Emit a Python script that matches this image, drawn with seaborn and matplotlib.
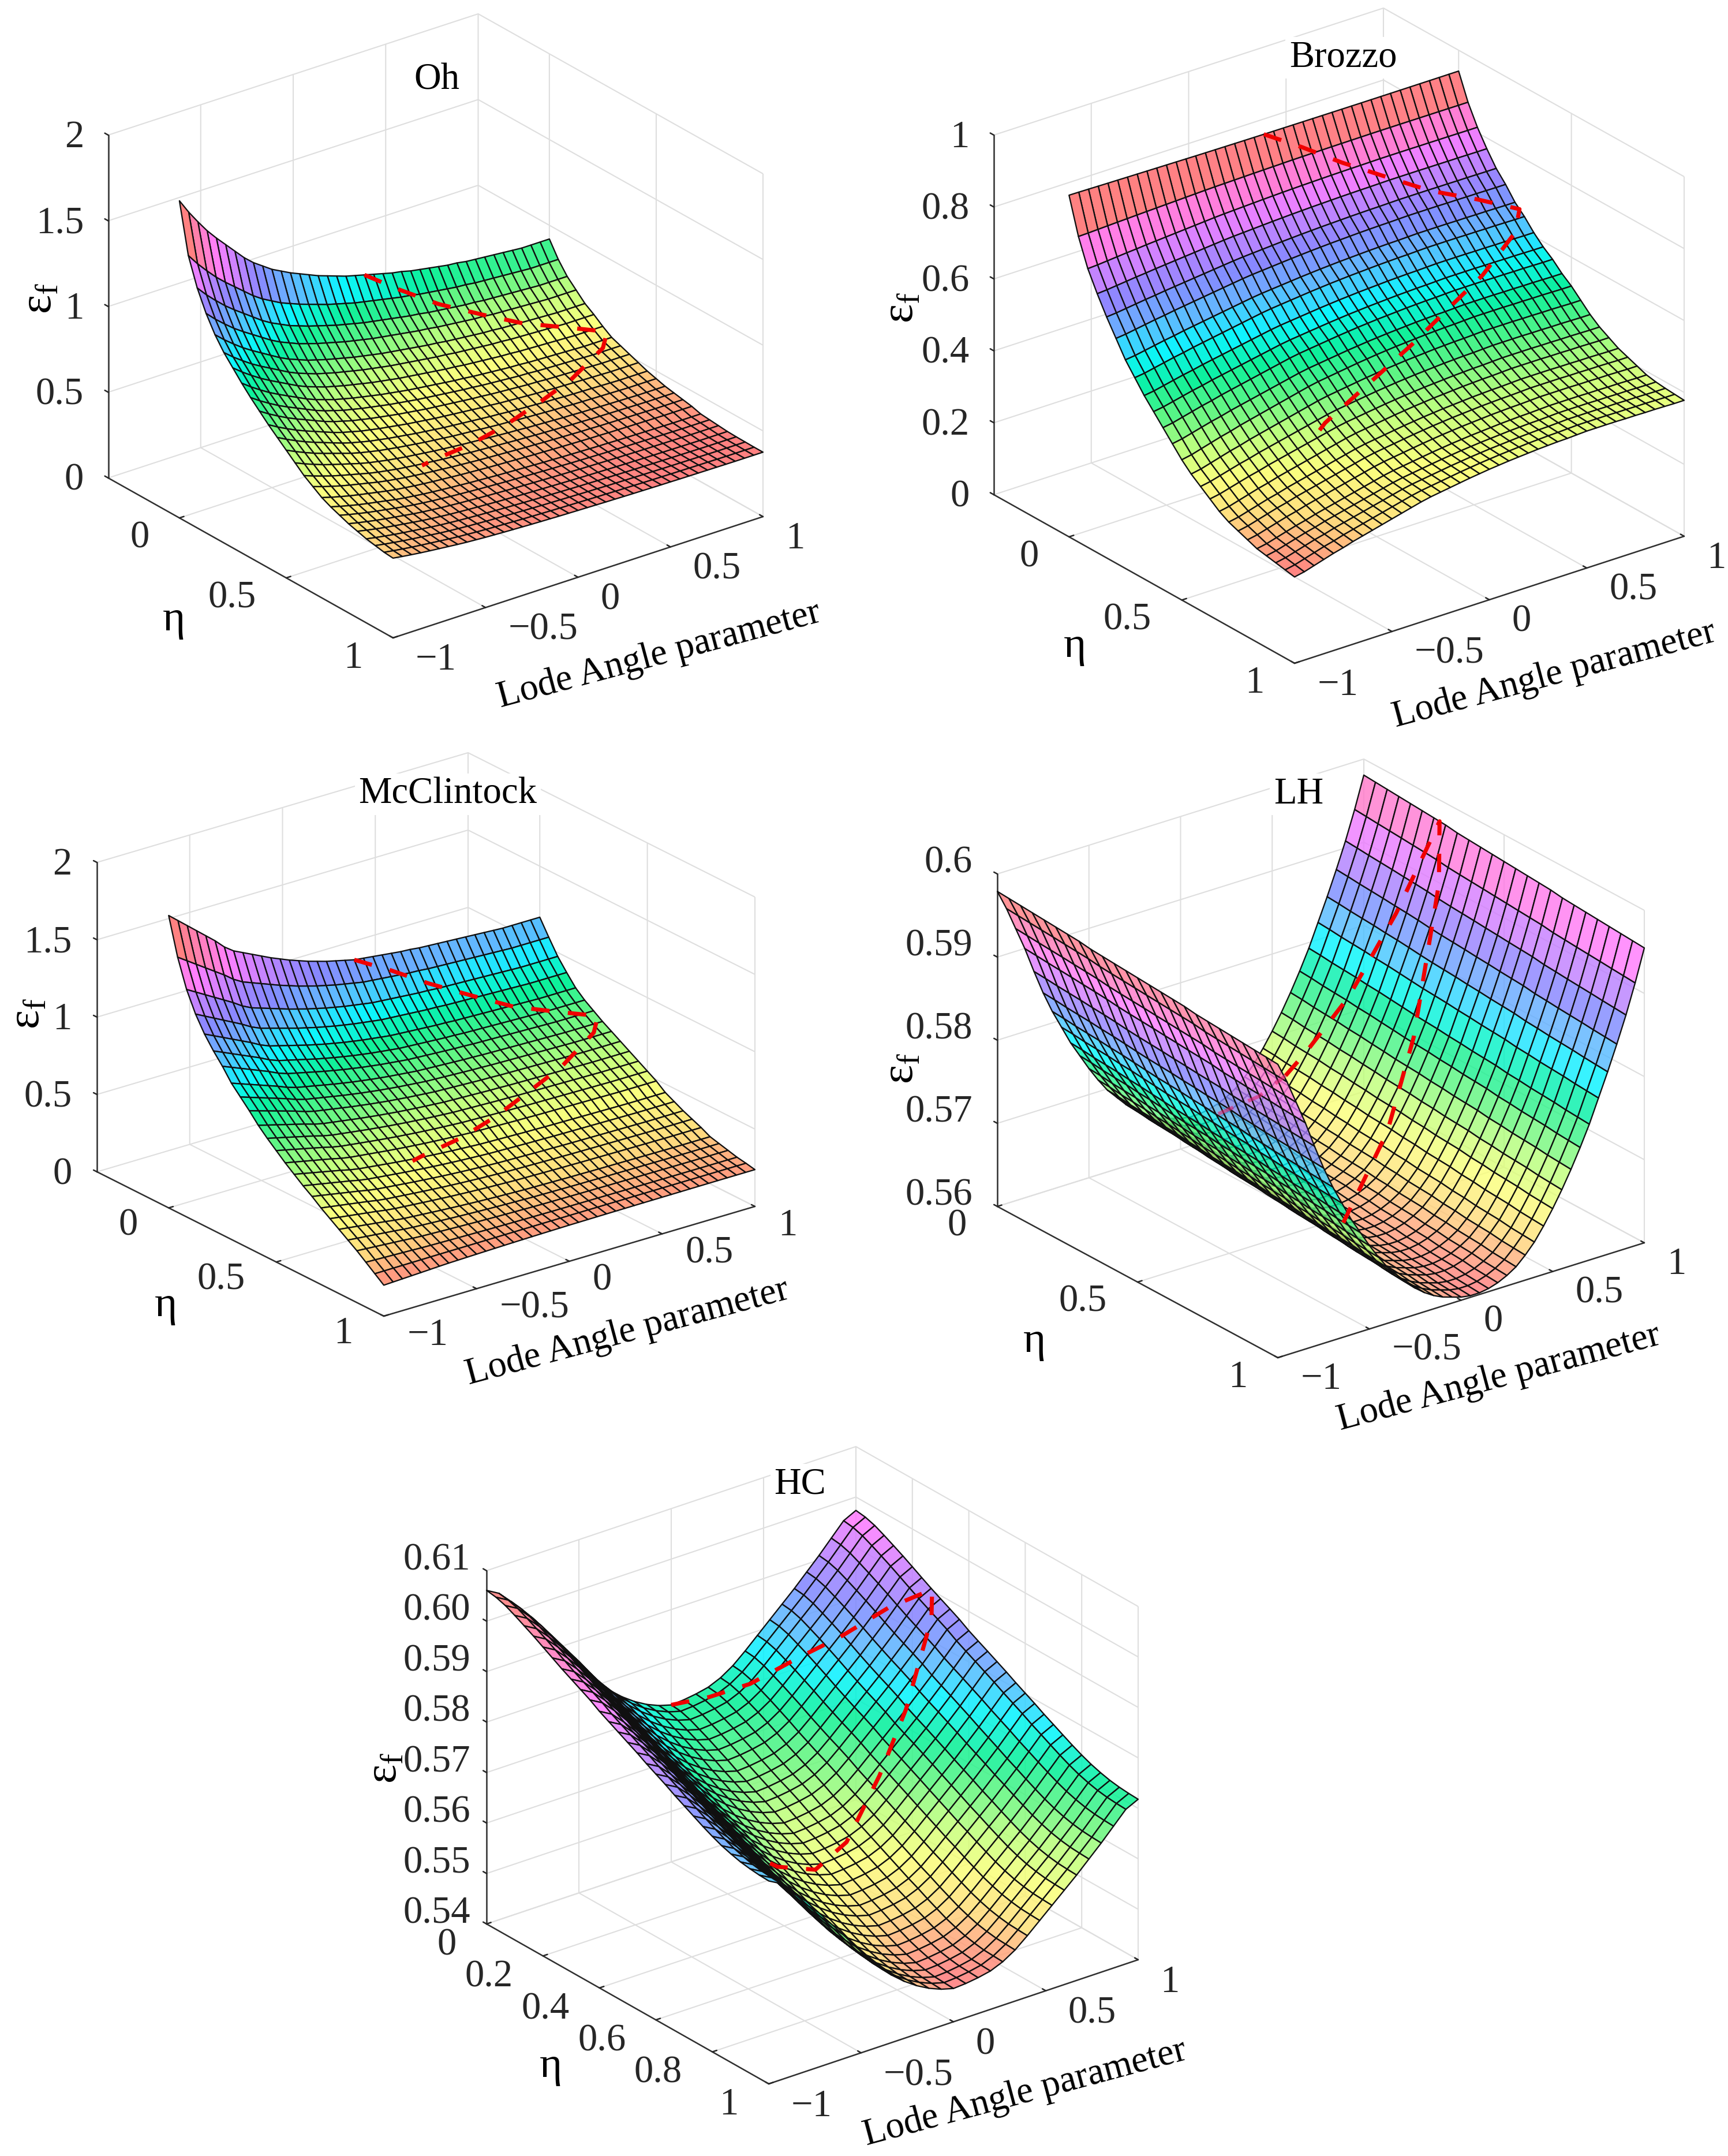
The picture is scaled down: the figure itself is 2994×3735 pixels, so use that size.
import numpy as np
import matplotlib
matplotlib.use("Agg")
import matplotlib.pyplot as plt
import seaborn as sns
from mpl_toolkits.mplot3d import proj3d

# Each table below: the surface height along two rim
# profiles over eta, and how far each Lode station sits from the first profile
# towards the second one. The plotted table is built from those readings.
OH_A = [1.85,1.56,1.40,1.28,1.185,1.11,1.05,.99,.935,.885,.835,.79,.745,.70,.655,.62,.585,.56,.54,.52,.505,.49,.48,.47,.465]
OH_B = [.92,.83,.76,.71,.66,.625,.585,.55,.53,.51,.49,.47,.455,.44,.43,.42,.41,.395,.39,.385,.38,.378,.377,.376,.376]
OH_W = [0,.09,.17,.245,.31,.37,.43,.49,.54,.58,.62,.65,.68,.705,.73,.755,.775,.795,.815,.83,.845,.86,.875,.89,.90,.915,.925,.935,.945,.955,.96,.97,.975,.98,.985,.99,.995,1,1,1,1]

BR_A = [.95,.85,.775,.72,.67,.625,.58,.545,.51,.48,.45,.42,.39,.365,.345,.325,.305,.29,.28,.27,.26,.255,.25,.245,.24]
BR_B = [.942,.87,.815,.77,.73,.70,.665,.64,.61,.585,.565,.54,.52,.495,.47,.45,.435,.42,.41,.40,.39,.385,.382,.38,.378]
BR_W = [0,.04,.10,.16,.22,.27,.33,.38,.43,.48,.53,.58,.63,.68,.72,.75,.78,.81,.84,.865,.89,.91,.93,.945,.96,.975,.985,.995,1.0,1.01,1.02,1.02,1.02,1.02,1.015,1.015,1.01,1.01,1.005,1.0,1.0]

MC_A = [1.89,1.65,1.47,1.34,1.24,1.16,1.09,1.01,.95,.89,.825,.77,.72,.67,.625,.58,.54,.495,.455,.415,.375,.335,.29,.245,.20]
MC_B = [1.17,1.07,.975,.90,.83,.78,.74,.70,.665,.63,.595,.56,.525,.49,.445,.415,.385,.36,.335,.305,.29,.275,.26,.25,.238]
MC_W = [0,.07,.14,.21,.28,.35,.43,.49,.53,.57,.61,.65,.685,.72,.75,.78,.805,.83,.85,.87,.89,.90,.91,.92,.93,.94,.945,.955,.96,.965,.97,.975,.98,.985,.99,.995,1,1,1,1,1]

LH_A = [.5979,.5978,.5977,.5976,.5975,.5974,.5973,.5972,.5970,.5969,.5968,.5967,.5966,.5965,.5964,.5963,.5962,.5960,.5959,.5958,.5957,.5956,.5955,.5954,.5953]
LH_B = [.5635,.5634,.5632,.5631,.5630,.5628,.5627,.5625,.5624,.5622,.5621,.5620,.5618,.5617,.5615,.5614,.5613,.5611,.5610,.5608,.5607,.5606,.5604,.5603,.5602]
LH_W = [0,.07,.15,.23,.32,.405,.48,.545,.61,.665,.72,.77,.815,.85,.885,.915,.94,.96,.975,.985,.995,1,1,.995,.985,.97,.95,.92,.885,.84,.79,.735,.675,.61,.54,.46,.38,.295,.205,.105,-.005]

HC_A = [.6061,.6058,.6052,.6043,.6033,.6023,.6012,.6001,.599,.598,.597,.596,.5948,.5938,.5928,.5918,.5908,.5897,.5887,.5877,.5866,.5856,.5846,.5836,.5827,.5819,.5813,.5808,.5805,.5803,.5802]
HC_B = [.5711,.5709,.5703,.5694,.5685,.5675,.5665,.5654,.5644,.5634,.5625,.5615,.5604,.5594,.5585,.5575,.5565,.5555,.5545,.5535,.5525,.5516,.5506,.5497,.5488,.5481,.5475,.5471,.5468,.5467,.5466]
HC_W = [0,.04,.11,.19,.28,.37,.46,.555,.645,.725,.80,.86,.91,.95,.98,1,.995,.985,.97,.94,.895,.835,.77,.705,.64,.575,.505,.435,.36,.285,.25]

# red dashed path on each surface: Lode parameter and eta of its nodes
PATH_LODE = [0,.16,.32,.5,.66,.84,1,.92,.66,.44,.17,-.06,-.31,-.37]
PATH_ETA = [0,.03,.07,.12,.17,.22,.27,.32,.40,.45,.51,.55,.58,.59]
BR_PATH_LODE = [0,.16,.32,.5,.66,.84,1,.92,.66,.44,.17,-.06,-.38,-.42]
BR_PATH_ETA = [0,.03,.07,.12,.17,.22,.27,.32,.40,.45,.51,.55,.60,.61]
LH_PATH_LODE = [.42,.5,.66,.84,1,.92,.66,.44,.17,0]
LH_PATH_ETA = [.10,.12,.17,.22,.27,.32,.40,.45,.51,.58]
LH_HIDDEN_LODE = [.16,.32,.42]
LH_HIDDEN_ETA = [.03,.07,.10]

LODE_TICKS = [-1,-.5,0,.5,1]
LODE_LABELS = ['\u22121','\u22120.5','0','0.5','1']
ETA_TICKS_A = [0,.5,1]
ETA_LABELS_A = ['0','0.5','1']
ETA_TICKS_B = [0,.2,.4,.6,.8,1]
ETA_LABELS_B = ['0','0.2','0.4','0.6','0.8','1']
Z2_TICKS = [0,.5,1,1.5,2]
Z2_LABELS = ['0','0.5','1','1.5','2']
Z1_TICKS = [0,.2,.4,.6,.8,1]
Z1_LABELS = ['0','0.2','0.4','0.6','0.8','1']
LH_TICKS = [.56,.57,.58,.59,.60]
LH_LABELS = ['0.56','0.57','0.58','0.59','0.6']
HC_TICKS = [.54,.55,.56,.57,.58,.59,.60,.61]
HC_LABELS = ['0.54','0.55','0.56','0.57','0.58','0.59','0.60','0.61']

W, H = 2995, 3735
sns.set_theme(style='white')
plt.rcParams['font.family'] = ['Liberation Serif', 'DejaVu Serif']
plt.rcParams['mathtext.fontset'] = 'custom'
plt.rcParams['mathtext.rm'] = 'Liberation Serif'
plt.rcParams['axes.unicode_minus'] = True
FS = 15.5
TICK_FS = 16

surface_cmap = sns.blend_palette(
    ['#ff7a7a', '#ffdc78', '#fbff78', '#beff78', '#5af57d', '#00f096', '#00f5ff',
     '#5ab4ff', '#8282ff', '#be7dff', '#ff78ff', '#ff78be', '#ff7a7a'], n_colors=256, as_cmap=True)

fig = plt.figure(figsize=(W / 300, H / 300), dpi=300, facecolor='white')


def view_from_corners(L, F, R, T):
    vx = (R[0] - F[0], F[1] - R[1])
    vy = (F[0] - L[0], F[1] - L[1])
    h = L[1] - T[1]
    sin_e = np.sqrt(vx[1] * vy[1] / (vx[0] * vy[0]))
    tan_p = vx[0] / vx[1] * sin_e
    e, p = np.arcsin(sin_e), np.arctan(tan_p)
    return np.degrees(e), 180 + np.degrees(p), (vx[0] / np.sin(p), vy[0] / np.cos(p), h / np.cos(e))


def corner_px(ax, xyz):
    M = ax.get_proj()
    a, b, _ = proj3d.proj_transform(*xyz, M)
    ax.apply_aspect()
    return ax.transData.transform((a, b))


def draw_panel(p):
    L, F, R, T = p['L'], p['F'], p['R'], p['T']
    elev, azim, aspect = view_from_corners(L, F, R, T)
    lode = np.linspace(-1, 1, len(p['w']))
    eta = np.linspace(0, 1, len(p['a']))
    a, b, w = np.array(p['a']), np.array(p['b']), np.array(p['w'])
    Z = np.outer(1 - w, a) + np.outer(w, b)
    X, Y = np.meshgrid(lode, eta, indexing='ij')

    S = 1600.0
    ax = fig.add_axes([0.1, 0.1, S / W, S / H], projection='3d', proj_type='ortho')
    ax.patch.set_visible(False)
    ax.computed_zorder = False
    ax.view_init(elev=elev, azim=azim)
    ax.set_box_aspect(aspect)
    ax.set_xlim(-1, 1)
    ax.set_ylim(p['eta_min'], 1)
    ax.invert_yaxis()
    ax.set_zlim(p['zlim'])

    xyz_F = (-1, 1, p['zlim'][0])
    xyz_R = (1, 1, p['zlim'][0])
    pF, pR = corner_px(ax, xyz_F), corner_px(ax, xyz_R)
    scale = np.hypot(R[0] - F[0], R[1] - F[1]) / np.hypot(*(pR - pF))
    S *= scale
    ax.set_position([0.1, 0.1, S / W, S / H])
    pF = corner_px(ax, xyz_F)
    left = 0.1 * W + (F[0] - pF[0])
    bottom = 0.1 * H + ((H - F[1]) - pF[1])
    ax.set_position([left / W, bottom / H, S / W, S / H])

    norm = plt.Normalize(Z.min(), Z.max())
    ax.plot_surface(X, Y, Z, rstride=1, cstride=1, facecolors=surface_cmap(norm(Z)), shade=False,
                    edgecolor='#101010', linewidth=0.55, alpha=p.get('alpha', 0.95), zorder=2,
                    antialiased=True)

    def height(pl, pe):
        pw = np.interp(pl, lode, w)
        return (1 - pw) * np.interp(pe, eta, a) + pw * np.interp(pe, eta, b)

    pl, pe = np.array(p['path_lode']), np.array(p['path_eta'])
    ax.plot(pl, pe, height(pl, pe), color='#f00000', lw=1.7, ls=(0, (4.5, 4.5)), zorder=5)
    if 'hidden_lode' in p:
        hl, he = np.array(p['hidden_lode']), np.array(p['hidden_eta'])
        ax.plot(hl, he, height(hl, he), color='#e0206e', lw=1.5, alpha=0.6, ls=(0, (4.5, 4.5)), zorder=5)

    ax.set_xticks(LODE_TICKS, LODE_LABELS, fontsize=TICK_FS, ha='left', va='bottom')
    ax.set_yticks(p['eta_ticks'], p['eta_labels'], fontsize=TICK_FS, ha='right', va='bottom')
    ax.set_zticks(p['zticks'], p['zlabels'], fontsize=TICK_FS, ha='right', va=p.get('zva', 'center_baseline'))
    ax.tick_params(axis='x', pad=4.7)
    ax.tick_params(axis='y', pad=5.1)
    ax.tick_params(axis='z', pad=p.get('zpad', -2))
    for axis in (ax.xaxis, ax.yaxis, ax.zaxis):
        axis.set_pane_color((1, 1, 1, 0))
        axis.pane.set_edgecolor('#cfcfcf')
        axis.pane.set_linewidth(0.5)
        axis.line.set_color('#303030')
        axis.line.set_linewidth(0.6)
        axis._axinfo['grid'].update(color='#dedede', linewidth=0.5)
        axis._axinfo['tick'].update(inward_factor=0.0, outward_factor=0.15,
                                    linewidth={True: 0.6, False: 0.6}, color='#303030')
    ax.zaxis.set_ticks_position('lower')

    def place(xy, s, fs=FS, **kw):
        ax.text2D(xy[0] / W, 1 - xy[1] / H, s, transform=fig.transFigure, ha='center',
                  va='center', fontsize=fs, color='black', zorder=8, **kw)

    place(p['title_xy'], p['title'], bbox=dict(fc='white', ec='none', pad=1.5))
    place(p['lode_xy'], 'Lode Angle parameter', rotation=p.get('lode_rot', 15), rotation_mode='anchor')
    place(p['eta_xy'], '\u03b7', fs=18)
    place(p['eps_xy'], '\u03b5$_{\\mathrm{f}}$', rotation=90, fs=19)


panels = [
    dict(title='Oh', a=OH_A, b=OH_B, w=OH_W, eta_min=-1/3, zlim=(0, 2), zticks=Z2_TICKS, zlabels=Z2_LABELS,
         eta_ticks=ETA_TICKS_A, eta_labels=ETA_LABELS_A, path_lode=PATH_LODE, path_eta=PATH_ETA,
         L=(187.5, 828), F=(681, 1105), R=(1322, 895), T=(187.5, 234),
         title_xy=(757, 139), lode_xy=(1142, 1135), eta_xy=(301, 1074), eps_xy=(69, 517)),
    dict(title='Brozzo', a=BR_A, b=BR_B, w=BR_W, eta_min=-1/3, zlim=(0, 1), zticks=Z1_TICKS, zlabels=Z1_LABELS,
         eta_ticks=ETA_TICKS_A, eta_labels=ETA_LABELS_A, path_lode=BR_PATH_LODE, path_eta=BR_PATH_ETA,
         L=(1722, 857), F=(2243, 1149), R=(2918, 929), T=(1722, 234),
         title_xy=(2327, 100), lode_xy=(2693, 1169), eta_xy=(1862, 1120), eps_xy=(1562, 533)),
    dict(title='McClintock', a=MC_A, b=MC_B, w=MC_W, eta_min=-1/3, zlim=(0, 2), zticks=Z2_TICKS, zlabels=Z2_LABELS,
         eta_ticks=ETA_TICKS_A, eta_labels=ETA_LABELS_A, path_lode=PATH_LODE, path_eta=PATH_ETA,
         L=(168, 2030), F=(665, 2280), R=(1308, 2090), T=(168, 1494),
         title_xy=(776, 1376), lode_xy=(1087, 2308), eta_xy=(287, 2262), eps_xy=(48, 1756)),
    dict(title='LH', a=LH_A, b=LH_B, w=LH_W, eta_min=0, zlim=(.56, .60), zticks=LH_TICKS, zlabels=LH_LABELS,
         eta_ticks=ETA_TICKS_A, eta_labels=ETA_LABELS_A, path_lode=LH_PATH_LODE, path_eta=LH_PATH_ETA,
         hidden_lode=LH_HIDDEN_LODE, hidden_eta=LH_HIDDEN_ETA, zva='baseline',
         L=(1728, 2090), F=(2214, 2352), R=(2849, 2153), T=(1728, 1514), alpha=0.8,
         title_xy=(2250, 1376), lode_xy=(2597, 2387), eta_xy=(1792, 2324), eps_xy=(1562, 1851)),
    dict(title='HC', a=HC_A, b=HC_B, w=HC_W, eta_min=0, zlim=(.54, .61), zticks=HC_TICKS, zlabels=HC_LABELS,
         eta_ticks=ETA_TICKS_B, eta_labels=ETA_LABELS_B, path_lode=PATH_LODE, path_eta=PATH_ETA,
         L=(843, 3333), F=(1332, 3610), R=(1972, 3395), T=(843, 2721), alpha=0.85, zpad=-4, zva='baseline',
         title_xy=(1386, 2572), lode_xy=(1776, 3626), eta_xy=(954, 3580), eps_xy=(667, 3063)),
]
for panel in panels:
    draw_panel(panel)

fig.savefig('out.png', dpi=300, facecolor='white')
